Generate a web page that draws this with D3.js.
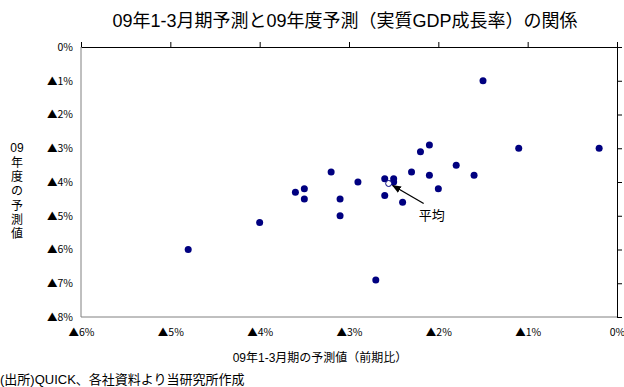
<!DOCTYPE html>
<html>
<head>
<meta charset="utf-8">
<script src="https://cdn.jsdelivr.net/npm/d3@7/dist/d3.min.js"></script>
<style>
  html, body { margin: 0; padding: 0; background: #fff; }
  svg { display: block; font-family: "Liberation Sans", "Noto Sans CJK JP", sans-serif; }
</style>
</head>
<body>
<svg id="chart" width="624" height="387"></svg>
<script>
// 1-3月期の予測値（前期比, %）
const qForecast = [-4.8, -4.0, -3.6, -3.5, -3.5, -3.2, -3.1, -3.1, -2.9, -2.6, -2.6, -2.7, -2.5,
                   -2.5, -2.4, -2.3, -2.2, -2.1, -2.1, -2.0, -1.8, -1.6, -1.5, -1.1, -0.2];
// 09年度の予測値（%）
const fyForecast = [-6.0, -5.2, -4.3, -4.2, -4.5, -3.7, -4.5, -5.0, -4.0, -3.9, -4.4, -6.9, -3.9,
                    -4.0, -4.6, -3.7, -3.1, -2.9, -3.8, -4.2, -3.5, -3.8, -1.0, -3.0, -3.0];
const xTicks = [-6, -5, -4, -3, -2, -1, 0];
const yTicks = [0, -1, -2, -3, -4, -5, -6, -7, -8];

const title = "09年1-3月期予測と09年度予測（実質GDP成長率）の関係";
const xTitle = "09年1-3月期の予測値（前期比）";
const yTitleTop = "09";
const yTitleChars = ["年", "度", "の", "予", "測", "値"];
const meanLabel = "平均";
const source = "(出所)QUICK、各社資料より当研究所作成";

const svg = d3.select("#chart");
const plotL = 81, plotR = 617, plotT = 47, plotB = 317;

const x = d3.scaleLinear().domain([-6, 0]).range([plotL, plotR]);
const y = d3.scaleLinear().domain([-8, 0]).range([plotB, plotT]);
const pct = v => v === 0 ? "0%" : "▲" + Math.abs(v) + "%";
const tickFont = "'Noto Sans CJK JP', sans-serif";

// title
svg.append("text")
  .attr("x", 345).attr("y", 27)
  .attr("text-anchor", "middle")
  .attr("font-size", 18)
  .attr("fill", "#000")
  .text(title);

// plot frame: left and bottom edges in grey
svg.append("line").attr("x1", plotL).attr("x2", plotL).attr("y1", plotT).attr("y2", plotB)
  .attr("stroke", "#808080").attr("stroke-width", 1);
svg.append("line").attr("x1", plotL).attr("x2", plotR).attr("y1", plotB).attr("y2", plotB)
  .attr("stroke", "#808080").attr("stroke-width", 1);

// x axis line at 0% along the top, ticks pointing up
const xAxisTop = svg.append("g")
  .attr("transform", `translate(0,${y(0)})`)
  .call(d3.axisTop(x).tickValues(xTicks).tickSize(5).tickSizeOuter(0).tickFormat(""));
xAxisTop.select(".domain").attr("stroke", "#000");
xAxisTop.selectAll(".tick line").attr("stroke", "#000");

// y axis line at 0% along the right, ticks pointing right
const yAxisRight = svg.append("g")
  .attr("transform", `translate(${x(0)},0)`)
  .call(d3.axisRight(y).tickValues(yTicks).tickSize(5).tickSizeOuter(0).tickFormat(""));
yAxisRight.select(".domain").attr("stroke", "#000");
yAxisRight.selectAll(".tick line").attr("stroke", "#000");

// x tick labels below the plot
const xLab = svg.append("g")
  .attr("transform", `translate(0,${plotB})`)
  .call(d3.axisBottom(x).tickValues(xTicks).tickSize(0).tickPadding(12).tickFormat(pct));
xLab.select(".domain").remove();
xLab.selectAll("text").attr("font-size", 10.5).attr("fill", "#000")
  .attr("font-family", tickFont);

// y tick labels on the left
const yLab = svg.append("g")
  .attr("transform", `translate(${plotL},0)`)
  .call(d3.axisLeft(y).tickValues(yTicks).tickSize(0).tickPadding(8).tickFormat(pct));
yLab.select(".domain").remove();
yLab.selectAll("text").attr("font-size", 10.5).attr("fill", "#000")
  .attr("font-family", tickFont);

// axis titles
svg.append("text")
  .attr("x", 320).attr("y", 362)
  .attr("text-anchor", "middle")
  .attr("font-size", 12)
  .text(xTitle);

const yt = svg.append("g").attr("font-size", 12).attr("text-anchor", "middle");
yt.append("text").attr("x", 17).attr("y", 152).text(yTitleTop);
yTitleChars.forEach((c, i) => {
  yt.append("text").attr("x", 17).attr("y", 167 + i * 14.2).text(c);
});

// source note
svg.append("text")
  .attr("x", 0).attr("y", 384)
  .attr("font-size", 13)
  .text(source);

// scatter points
const pts = qForecast.map((q, i) => ({ q, fy: fyForecast[i] }));
svg.append("g")
  .selectAll("circle")
  .data(pts)
  .join("circle")
  .attr("cx", d => x(d.q))
  .attr("cy", d => y(d.fy))
  .attr("r", 3.5)
  .attr("fill", "#000080");

// average marker
const meanQ = d3.mean(qForecast);
const meanFy = d3.mean(fyForecast);
svg.append("circle")
  .attr("cx", x(meanQ)).attr("cy", y(meanFy))
  .attr("r", 3)
  .attr("fill", "#fff")
  .attr("stroke", "#000080")
  .attr("stroke-width", 1);

// arrow pointing to the average
const defs = svg.append("defs");
defs.append("marker")
  .attr("id", "arrowhead")
  .attr("viewBox", "0 0 10 10")
  .attr("refX", 9).attr("refY", 5)
  .attr("markerWidth", 7).attr("markerHeight", 7)
  .attr("orient", "auto")
  .append("path")
  .attr("d", "M0,1 L10,5 L0,9 Z")
  .attr("fill", "#000");

svg.append("line")
  .attr("x1", x(meanQ) + 35).attr("y1", y(meanFy) + 20)
  .attr("x2", x(meanQ) + 4).attr("y2", y(meanFy) + 2)
  .attr("stroke", "#000").attr("stroke-width", 1.3)
  .attr("marker-end", "url(#arrowhead)");

svg.append("text")
  .attr("x", x(meanQ) + 43).attr("y", y(meanFy) + 37)
  .attr("text-anchor", "middle")
  .attr("font-size", 13)
  .text(meanLabel);
</script>
</body>
</html>
